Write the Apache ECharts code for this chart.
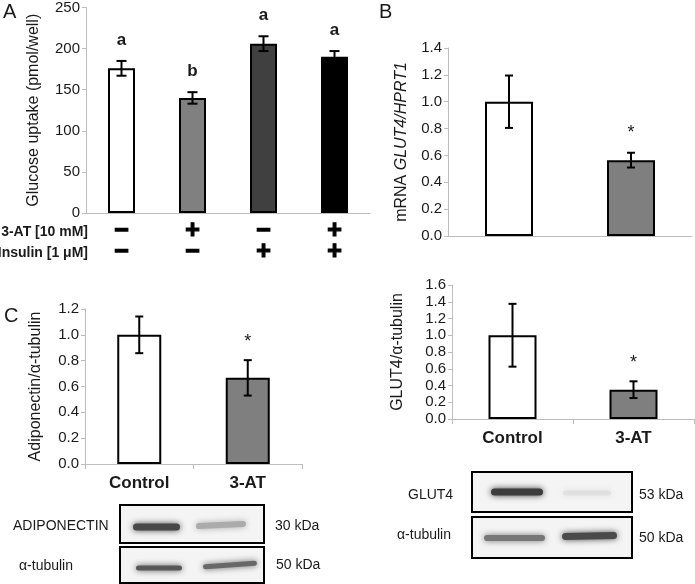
<!DOCTYPE html>
<html>
<head>
<meta charset="utf-8">
<script src="https://cdn.jsdelivr.net/npm/echarts@6/dist/echarts.min.js"></script>
<style>html,body{margin:0;padding:0;background:#fff}#c{width:695px;height:584px}</style>
</head>
<body>
<div id="c"></div>
<script>
// ---- Data ----
const glucoseCats = ['g1', 'g2', 'g3', 'g4'];
const glucoseMean = [176, 140, 206, 190];
const glucoseErr = [9, 7, 9, 7];
const glucoseSig = ['a', 'b', 'a', 'a'];
const at3Signs = ['−', '+', '−', '+'];
const insulinSigns = ['−', '−', '+', '+'];
const glucoseTicks = { min: 0, max: 250, interval: 50 };

const groupCats = ['Control', '3-AT'];
const mrnaMean = [1.0, 0.565];
const mrnaErr = [0.195, 0.055];
const mrnaTicks = { min: 0, max: 1.4, interval: 0.2 };

const glut4Mean = [1.0, 0.35];
const glut4Err = [0.375, 0.1];
const glut4Ticks = { min: 0, max: 1.6, interval: 0.2 };

const adipoMean = [1.0, 0.667];
const adipoErr = [0.142, 0.137];
const adipoTicks = { min: 0, max: 1.2, interval: 0.2 };

const groupSig = ['', '*'];

// ---- Styles ----
const FONT = 'Liberation Sans, Arial, sans-serif';
const axisGray = '#bdbdbd';
const glucoseColors = ['#ffffff', '#808080', '#404040', '#000000'];
const groupColors = ['#ffffff', '#7f7f7f'];

function yAxisCfg(idx, ticks, name, gap, rich) {
  return {
    type: 'value', gridIndex: idx, min: ticks.min, max: ticks.max, interval: ticks.interval,
    axisLine: { show: true, lineStyle: { color: axisGray, width: 1 } },
    axisTick: { show: true, length: 4, lineStyle: { color: axisGray } },
    splitLine: { show: false },
    axisLabel: {
      color: '#1a1a1a', fontSize: 15, fontFamily: FONT, margin: 6,
      formatter: v => ticks.interval < 1 ? v.toFixed(1) : String(v)
    },
    name: name, nameLocation: 'middle', nameGap: gap, nameRotate: 90,
    nameTextStyle: Object.assign({ color: '#1a1a1a', fontSize: 16, fontFamily: FONT }, rich ? { rich: rich } : {})
  };
}

function xAxisCfg(idx, cats, opts) {
  return Object.assign({
    type: 'category', gridIndex: idx, data: cats,
    axisLine: { show: true, lineStyle: { color: axisGray, width: 1 } },
    axisTick: { show: false },
    splitLine: { show: false }
  }, opts);
}

function barSeries(idx, mean, colors, barWidth) {
  return {
    type: 'bar', xAxisIndex: idx, yAxisIndex: idx, barWidth: barWidth,
    data: mean.map((v, i) => ({ value: v, itemStyle: { color: colors[i], borderColor: '#000', borderWidth: 2 } })),
    silent: true, animation: false, z: 2
  };
}

function errSeries(idx, mean, err, sig, opt) {
  return {
    type: 'custom', xAxisIndex: idx, yAxisIndex: idx, silent: true, animation: false, z: 5,
    data: mean.map((m, i) => [i, m, err[i]]),
    renderItem: function (params, api) {
      const i = api.value(0), m = api.value(1), e = api.value(2);
      const hi = api.coord([i, m + e]);
      const lo = api.coord([i, m - e]);
      const w = opt.cap;
      const st = { stroke: '#000', lineWidth: 2 };
      const children = [
        { type: 'line', shape: { x1: hi[0], y1: hi[1], x2: lo[0], y2: lo[1] }, style: st },
        { type: 'line', shape: { x1: hi[0] - w, y1: hi[1], x2: hi[0] + w, y2: hi[1] }, style: st },
        { type: 'line', shape: { x1: lo[0] - w, y1: lo[1], x2: lo[0] + w, y2: lo[1] }, style: st }
      ];
      const s = sig[params.dataIndex];
      if (s) {
        children.push({
          type: 'text',
          style: {
            text: s, x: hi[0], y: hi[1] - opt.gap, align: 'center', verticalAlign: opt.va,
            font: opt.font, fill: '#1a1a1a'
          }
        });
      }
      return { type: 'group', children: children };
    }
  };
}

// Western blot bands (decorative image content)
function band(x1, x2, y, h, color, rot) {
  return {
    type: 'rect', shape: { x: x1, y: y - h / 2, width: x2 - x1, height: h, r: h / 2 },
    originX: (x1 + x2) / 2, originY: y, rotation: rot || 0,
    style: { fill: color, shadowBlur: 6, shadowColor: color }, z: 12
  };
}
function box(x, y, w, h) {
  return { type: 'rect', shape: { x: x, y: y, width: w, height: h },
    style: { fill: '#f4f4f4', stroke: '#000', lineWidth: 2 }, z: 10 };
}
function txt(text, x, y, size, weight, align) {
  return { type: 'text', x: x, y: y, z: 15,
    style: { text: text, font: (weight || 'normal') + ' ' + size + 'px ' + FONT, fill: '#1a1a1a',
      align: align || 'left', verticalAlign: 'middle' } };
}

const chart = echarts.init(document.getElementById('c'), null, { renderer: 'canvas' });

const option = {
  backgroundColor: '#ffffff',
  animation: false,
  grid: [
    { left: 86, top: 5, width: 284, height: 208 },
    { left: 448, top: 48, width: 244, height: 188 },
    { left: 452, top: 285, width: 242, height: 134 },
    { left: 85, top: 309, width: 217, height: 155 }
  ],
  xAxis: [
    xAxisCfg(0, glucoseCats, {
      axisLabel: {
        interval: 0, margin: 8, fontFamily: FONT,
        formatter: (v, i) => '{s|' + at3Signs[i] + '}\n{s|' + insulinSigns[i] + '}',
        rich: { s: { fontSize: 25, fontWeight: 'bold', lineHeight: 21, color: '#000', fontFamily: FONT,
          textBorderColor: '#000', textBorderWidth: 1.2 } }
      }
    }),
    xAxisCfg(1, groupCats, { axisLabel: { show: false } }),
    xAxisCfg(2, groupCats, {
      axisTick: { show: true, length: 5, lineStyle: { color: axisGray } },
      axisLabel: { interval: 0, margin: 11, fontSize: 17, fontWeight: 'bold', color: '#1a1a1a', fontFamily: FONT }
    }),
    xAxisCfg(3, groupCats, {
      axisTick: { show: true, length: 5, lineStyle: { color: axisGray } },
      axisLabel: { interval: 0, margin: 11, fontSize: 17, fontWeight: 'bold', color: '#1a1a1a', fontFamily: FONT }
    })
  ],
  yAxis: [
    yAxisCfg(0, glucoseTicks, 'Glucose uptake (pmol/well)', 44),
    yAxisCfg(1, mrnaTicks, 'mRNA {i|GLUT4/HPRT1}', 38, { i: { fontStyle: 'italic', fontSize: 16, fontFamily: FONT, color: '#1a1a1a' } }),
    yAxisCfg(2, glut4Ticks, 'GLUT4/α-tubulin', 46),
    yAxisCfg(3, adipoTicks, 'Adiponectin/α-tubulin', 41)
  ],
  series: [
    barSeries(0, glucoseMean, glucoseColors, 27),
    errSeries(0, glucoseMean, glucoseErr, glucoseSig, { cap: 5, gap: 12, va: 'bottom', font: 'bold 17px ' + FONT }),
    barSeries(1, mrnaMean, groupColors, 48),
    errSeries(1, mrnaMean, mrnaErr, groupSig, { cap: 4, gap: 11, va: 'bottom', font: '18px ' + FONT }),
    barSeries(2, glut4Mean, groupColors, 48),
    errSeries(2, glut4Mean, glut4Err, groupSig, { cap: 4, gap: 9, va: 'bottom', font: '18px ' + FONT }),
    barSeries(3, adipoMean, groupColors, 44),
    errSeries(3, adipoMean, adipoErr, groupSig, { cap: 4, gap: 9, va: 'bottom', font: '18px ' + FONT })
  ],
  graphic: [
    txt('A', 3, 12, 20),
    txt('B', 379, 12, 20),
    txt('C', 4, 316, 20),
    txt('3-AT [10 mM]', 88, 232, 14, 'bold', 'right'),
    txt('Insulin [1 μM]', 88, 253, 14, 'bold', 'right'),
    // Panel B blot
    box(472, 472, 160, 40),
    box(472, 517, 160, 41),
    band(491, 543, 492, 7, '#3c3c3c'),
    band(563, 611, 493, 5, '#e0e0e0'),
    band(484, 545, 538, 6, '#777777'),
    band(562, 617, 536, 7, '#4a4a4a', 0.02),
    txt('GLUT4', 408, 495, 14),
    txt('α-tubulin', 397, 535, 14),
    txt('53 kDa', 639, 495, 14),
    txt('50 kDa', 639, 538, 14),
    // Panel C blot
    box(120, 505, 144, 38),
    box(120, 547, 144, 36),
    band(133, 180, 527, 7, '#484848'),
    band(196, 246, 525, 6, '#ababab', 0.05),
    band(136, 182, 568, 5, '#585858'),
    band(203, 257, 565, 5, '#686868', 0.07),
    txt('ADIPONECTIN', 13, 526, 14),
    txt('α-tubulin', 19, 566, 14),
    txt('30 kDa', 275, 526, 14),
    txt('50 kDa', 276, 565, 14)
  ]
};
chart.setOption(option);
</script>
</body>
</html>
